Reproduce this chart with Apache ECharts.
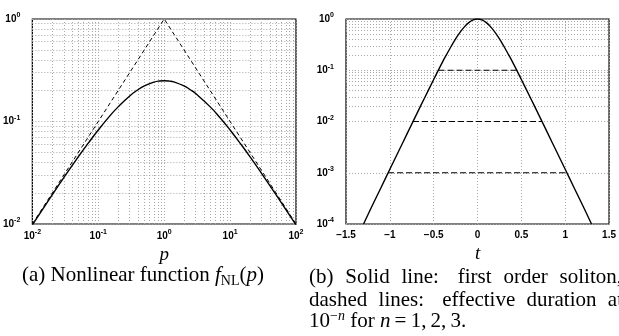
<!DOCTYPE html>
<html><head><meta charset="utf-8">
<script src="https://cdn.jsdelivr.net/npm/echarts@6/dist/echarts.min.js"></script>
<style>html,body{margin:0;padding:0;background:#fff}#c{width:619px;height:336px}</style>
</head><body><div id="c"></div>
<script>
// ---- Panel (a): nonlinear function f_NL(p) ----
const pValues   = [0.01,0.02,0.03,0.05,0.07,0.1,0.15,0.2,0.3,0.4,0.5,0.7,0.85,1,1.2,1.4,2,2.5,3,5,7,10,15,20,30,50,100];
const fnlValues = [0.0098,0.0192,0.0283,0.0454,0.0611,0.0826,0.1134,0.1389,0.1775,0.2041,0.2222,0.2422,0.2484,0.25,0.2479,0.2431,0.2222,0.2041,0.1875,0.1389,0.1094,0.0826,0.0586,0.0454,0.0312,0.0192,0.0098];
const pDashed   = [0.01, 1, 100];
const fDashed   = [0.01, 1, 0.01];
// ---- Panel (b): first order soliton ----
const tValues       = [-1.3,-1.2,-1.1,-1.0,-0.9,-0.8,-0.7,-0.6,-0.5,-0.4,-0.35,-0.3,-0.25,-0.2,-0.15,-0.1,-0.05,0,0.05,0.1,0.15,0.2,0.25,0.3,0.35,0.4,0.5,0.6,0.7,0.8,0.9,1.0,1.1,1.2,1.3];
const solitonValues = [0.0001,0.000229,0.000517,0.00117,0.00263,0.00592,0.0133,0.0298,0.0661,0.144,0.207,0.294,0.409,0.549,0.703,0.851,0.960,1,0.960,0.851,0.703,0.549,0.409,0.294,0.207,0.144,0.0661,0.0298,0.0133,0.00592,0.00263,0.00117,0.000517,0.000229,0.0001];
const durationLevels = [0.1, 0.01, 0.001];
const durationHalfWidths = [0.445, 0.735, 1.02];
// caption words of panel (b), lines 1 and 2 (justified text)
const captionB1 = ['(b)', 'Solid', 'line:', 'first', 'order', 'soliton,'];
const captionB2 = ['dashed', 'lines:', 'effective', 'duration', 'at'];

function minorLog(fromExp, toExp) {
  const out = [];
  for (let e = fromExp; e < toExp; e++) for (let m = 2; m <= 9; m++) out.push(+(m * Math.pow(10, e)).toPrecision(3));
  return out;
}
const gridStyle = {type:[1,2], color:'#a8a8a8', width:1};
function gridLines(axisKey, vals) {
  return {silent:true, symbol:'none', label:{show:false}, lineStyle:gridStyle, animation:false,
          emphasis:{disabled:true}, data: vals.map(v => ({[axisKey]: v}))};
}
const logFmt = v => '{b|10}{s|' + Math.round(Math.log10(v)) + '}';
const rich = {
  b:{fontSize:10, fontWeight:'bold', fontFamily:'Liberation Sans', color:'#000', lineHeight:14},
  s:{fontSize:7, fontWeight:'bold', fontFamily:'Liberation Sans', color:'#000', verticalAlign:'top'}
};
const nameStyle = {fontFamily:'Liberation Serif', fontStyle:'italic', fontSize:19, color:'#000'};
const capFont = 'Liberation Serif';
const capSize = 21;

// justified word placement between x0 and x1 (gaps after a colon are wider, as in TeX)
const measureCtx = document.createElement('canvas').getContext('2d');
measureCtx.font = capSize + 'px "' + capFont + '"';
function justify(words, x0, x1) {
  const w = words.map(s => measureCtx.measureText(s).width);
  const weights = words.slice(0, -1).map(s => /:$/.test(s) ? 1.6 : 1);
  const free = (x1 - x0) - w.reduce((a,b)=>a+b, 0);
  const unit = free / weights.reduce((a,b)=>a+b, 0);
  const xs = []; let x = x0;
  words.forEach((s,i) => { xs.push(x); x += w[i] + (i < weights.length ? weights[i]*unit : 0); });
  return xs;
}

const graphic = [
  {type:'text', left:22, top:265, style:{
    rich:{r:{fontFamily:capFont, fontSize:capSize, fill:'#000', lineHeight:25},
          i:{fontFamily:capFont, fontSize:capSize, fontStyle:'italic', fill:'#000', lineHeight:25},
          sub:{fontFamily:capFont, fontSize:14, fill:'#000', verticalAlign:'bottom', lineHeight:22}},
    text:'{r|(a) Nonlinear function }{i|f}{sub|NL}{r|(}{i|p}{r|)}'}}
];
const b1x = justify(captionB1, 309, 622);
const b2x = justify(captionB2, 309, 623);
captionB1.forEach((w,i)=>graphic.push({type:'text', left:b1x[i], top:267, style:{text:w, fontFamily:capFont, fontSize:capSize, fill:'#000'}}));
captionB2.forEach((w,i)=>graphic.push({type:'text', left:b2x[i], top:290, style:{text:w, fontFamily:capFont, fontSize:capSize, fill:'#000'}}));
graphic.push({type:'text', left:309, top:309, style:{
  rich:{r:{fontFamily:capFont, fontSize:capSize, fill:'#000', lineHeight:25},
        i:{fontFamily:capFont, fontSize:capSize, fontStyle:'italic', fill:'#000', lineHeight:25},
        sup:{fontFamily:capFont, fontSize:14, fill:'#000', verticalAlign:'top'},
        supi:{fontFamily:capFont, fontSize:14, fontStyle:'italic', fill:'#000', verticalAlign:'top'}},
  text:'{r|10}{sup|\u2212}{supi|n}{r| for }{i|n}{r|\u2009=\u20091,\u20092,\u20093.}'}});

const chart = echarts.init(document.getElementById('c'), null, {renderer:'canvas'});
const option = {
  animation:false,
  backgroundColor:'#fff',
  grid:[
    {left:32, top:19, width:264, height:205, show:true, borderColor:'#000', borderWidth:1.2, backgroundColor:'transparent'},
    {left:346, top:19, width:266, height:205, show:true, borderColor:'#000', borderWidth:1.2, backgroundColor:'transparent'}
  ],
  xAxis:[
    {gridIndex:0, type:'log', logBase:10, min:0.01, max:100, name:'p', nameLocation:'middle', nameGap:18, nameTextStyle:nameStyle,
     axisLine:{show:false}, axisTick:{show:false}, splitLine:{show:true, lineStyle:gridStyle},
     axisLabel:{formatter:logFmt, rich:rich, margin:5}},
    {gridIndex:1, type:'value', min:-1.5, max:1.5, interval:0.5, name:'t', nameLocation:'middle', nameGap:18, nameTextStyle:nameStyle,
     axisLine:{show:false}, axisTick:{show:false}, splitLine:{show:true, lineStyle:gridStyle},
     axisLabel:{margin:6, fontSize:10, fontWeight:'bold', fontFamily:'Liberation Sans', color:'#000',
       formatter: v => String(v).replace('-', '\u2212')}}
  ],
  yAxis:[
    {gridIndex:0, type:'log', logBase:10, min:0.01, max:1,
     axisLine:{show:false}, axisTick:{show:false}, splitLine:{show:true, lineStyle:gridStyle},
     axisLabel:{formatter:logFmt, rich:rich, margin:12}},
    {gridIndex:1, type:'log', logBase:10, min:0.0001, max:1,
     axisLine:{show:false}, axisTick:{show:false}, splitLine:{show:true, lineStyle:gridStyle},
     axisLabel:{formatter:logFmt, rich:rich, margin:12}}
  ],
  series:[
    {type:'line', xAxisIndex:0, yAxisIndex:0, data:[], markLine:gridLines('xAxis', minorLog(-2, 2)), z:1},
    {type:'line', xAxisIndex:0, yAxisIndex:0, data:[], markLine:gridLines('yAxis', minorLog(-2, 0)), z:1},
    {type:'line', xAxisIndex:1, yAxisIndex:1, data:[], markLine:gridLines('yAxis', minorLog(-4, 0)), z:1},
    {type:'line', xAxisIndex:0, yAxisIndex:0, symbol:'none', smooth:true, z:5,
     lineStyle:{color:'#000', width:1.4}, data: pValues.map((p,i)=>[p, fnlValues[i]])},
    {type:'line', xAxisIndex:0, yAxisIndex:0, symbol:'none', z:5,
     lineStyle:{color:'#000', width:1, type:[4,3]}, data: pDashed.map((p,i)=>[p, fDashed[i]])},
    {type:'line', xAxisIndex:1, yAxisIndex:1, symbol:'none', smooth:0.4, z:5,
     lineStyle:{color:'#000', width:1.4}, data: tValues.map((t,i)=>[t, solitonValues[i]])}
  ].concat(durationLevels.map((lv,i)=>({
     type:'line', xAxisIndex:1, yAxisIndex:1, symbol:'none', z:5,
     lineStyle:{color:'#000', width:1, type:[6,3]},
     data:[[-durationHalfWidths[i], lv],[durationHalfWidths[i], lv]]}))),
  graphic: graphic
};
chart.setOption(option);
</script>
</body></html>
